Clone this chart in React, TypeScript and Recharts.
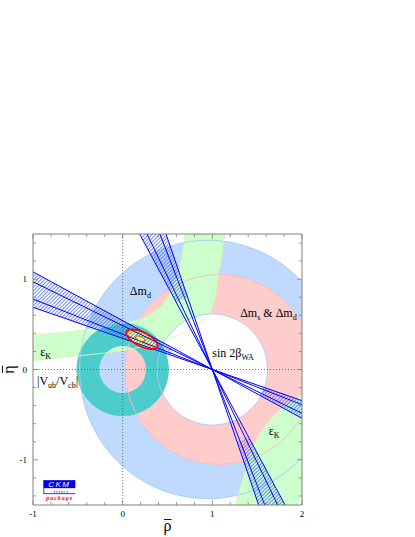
import React from 'react';
import { ComposedChart, Scatter, XAxis, YAxis } from 'recharts';

// ---------- axes ----------
const xDomain = [-1, 2];
const yDomain = [-1.5, 1.5];
const xTicks = [-1, -0.8, -0.6, -0.4, -0.2, 0, 0.2, 0.4, 0.6, 0.8, 1, 1.2, 1.4, 1.6, 1.8, 2];
const yTicks = [-1.4, -1.2, -1, -0.8, -0.6, -0.4, -0.2, 0, 0.2, 0.4, 0.6, 0.8, 1, 1.2, 1.4];
const xLabelled = [-1, 0, 1, 2];
const yLabelled = [-1, 0, 1];
const xTitle = 'ρ';
const yTitle = 'η';

// ---------- constraints ----------
// circles: [rho centre, eta centre, radius]
const dmdCircle = [0.95, 0, 1.43];
const dmsCircle = [1.08, 0, 1.05];
const holeCircle = [1.0, 0, 0.615];
const vubOuter = [0, 0, 0.515];
const vubInner = [0, 0, 0.26];

// epsilon_K band edges
const ekUpperOuter = [[-1.1, 0.37], [-1, 0.38], [-0.5, 0.43], [0, 0.51], [0.25, 0.58], [0.42, 0.7], [0.53, 0.85], [0.61, 1.05], [0.66, 1.25], [0.7, 1.5], [0.72, 1.62]];
const ekUpperInner = [[1.16, 1.62], [1.14, 1.5], [1.11, 1.3], [1.07, 1.05], [1.03, 0.8], [0.95, 0.6], [0.7, 0.42], [0.4, 0.3], [0, 0.21], [-0.5, 0.15], [-1, 0.1], [-1.1, 0.09]];
const ekLowerInner = [[2.1, -0.26], [2.0, -0.285], [1.75, -0.45], [1.55, -0.68], [1.42, -0.95], [1.33, -1.25], [1.26, -1.5], [1.24, -1.62]];
const ekLowerOuter = [[1.88, -1.62], [1.94, -1.5], [2.0, -1.4], [2.1, -1.28]];

// sin 2beta : apex and line angles (deg)
const apex = [1, 0];
const betaDeg = [19.0, 21.3, 25.9, 28.4];
const hatchStart = { shallowUp: 0.5, shallowDown: 0.6, steepUp: 0.85, steepDown: 0.85 };

// global fit contours
const cl95 = { rho: 0.215, eta: 0.335, a: 0.19, b: 0.077, angle: -26 };
const cl68 = { rho: 0.195, eta: 0.341, a: 0.055, b: 0.024, angle: -22 };

// text annotations: parts [text, isSubscript]
const annotations = [
  { x: 0.08, y: 0.83, parts: [['Δm', false], ['d', true]] },
  { x: 1.31, y: 0.58, parts: [['Δm', false], ['s', true], [' & Δm', false], ['d', true]] },
  { x: -0.92, y: 0.145, parts: [['ε', false], ['K', true]] },
  { x: 1.63, y: -0.72, parts: [['ε', false], ['K', true]] },
  { x: -0.955, y: -0.17, parts: [['|V', false], ['ub', true], ['/V', false], ['cb', true], ['|', false]] },
  { x: 1.0, y: 0.135, parts: [['sin 2β', false], ['WA', true]] },
];
const logoAnchor = [{ x: -0.885, y: -1.225 }];

// ---------- colours ----------
const C = {
  blue: '#bfd9ff',
  pink: '#ffcccc',
  green: '#ccffcc',
  teal: '#4dcccc',
  blueLine: '#a9c6fb',
  pinkLine: '#ffb8b8',
  greenLine: '#d4f7a8',
  band: '#0000ff',
  hatch: '#2a4cff',
  red: '#ff0000',
  yellow: '#ffff66',
  frame: '#808080',
};
const serif = '"Liberation Serif", "Times New Roman", serif';

// ---------- geometry helpers ----------
const circlePts = (c: number[], n = 200) =>
  Array.from({ length: n }, (_, i) => {
    const t = (2 * Math.PI * i) / n;
    return { x: c[0] + c[2] * Math.cos(t), y: c[1] + c[2] * Math.sin(t) };
  });
const ellipsePts = (e: any, n = 120) => {
  const A = (e.angle * Math.PI) / 180;
  return Array.from({ length: n }, (_, i) => {
    const t = (2 * Math.PI * i) / n;
    const u = e.a * Math.cos(t);
    const v = e.b * Math.sin(t);
    return { x: e.rho + u * Math.cos(A) - v * Math.sin(A), y: e.eta + u * Math.sin(A) + v * Math.cos(A) };
  });
};
const toPts = (arr: number[][]) => arr.map(([x, y]) => ({ x, y }));
const dir = (phiDeg: number, r: number) => {
  const p = (phiDeg * Math.PI) / 180;
  return { x: apex[0] + r * Math.cos(p), y: apex[1] + r * Math.sin(p) };
};

// data sets
const dmdData = circlePts(dmdCircle);
const dmsData = circlePts(dmsCircle);
const holeData = circlePts(holeCircle);
const vubData = [...circlePts(vubOuter), ...circlePts(vubInner)];
const ekUpData = [...toPts(ekUpperOuter), ...toPts(ekUpperInner)];
const ekLowData = [...toPts(ekLowerInner), ...toPts(ekLowerOuter)];
const bMin = Math.min(...betaDeg);
const bMax = Math.max(...betaDeg);
const R = 3.5;
const wedge = (p1: number, p2: number, r0: number) => [dir(p1, r0), dir(p1, R), dir(p2, R), dir(p2, r0)];
const hatchData = [
  ...wedge(180 - bMin, 180 - bMax, hatchStart.shallowUp),
  ...wedge(-bMin, -bMax, hatchStart.shallowDown),
  ...wedge(90 + bMin, 90 + bMax, hatchStart.steepUp),
  ...wedge(bMin - 90, bMax - 90, hatchStart.steepDown),
];
const bandLineData = betaDeg.flatMap((b) => [dir(180 - b, R), dir(-b, R), dir(90 + b, R), dir(b - 90, R)]);
const cl95Data = ellipsePts(cl95);
const cl68Data = ellipsePts(cl68, 60);
const boundaryData = [...circlePts(dmdCircle), ...circlePts(holeCircle)];
const pinkBoundaryData = circlePts(dmsCircle);
const greenBoundaryData = [...toPts(ekUpperOuter), ...toPts(ekUpperInner), ...toPts(ekLowerInner), ...toPts(ekLowerOuter)];
const hAxisLine = [{ x: xDomain[0], y: 0 }, { x: xDomain[1], y: 0 }];
const vAxisLine = [{ x: 0, y: yDomain[0] }, { x: 0, y: yDomain[1] }];

// ---------- renderers ----------
const f = (v: number) => v.toFixed(2);
const polyPath = (pts: any[], closed: boolean) => {
  let d = '';
  pts.forEach((p, j) => {
    d += (j === 0 ? 'M' : 'L') + f(p.x) + ',' + f(p.y);
  });
  return closed ? d + 'Z' : d;
};
const crPath = (pts: any[], move: boolean) => {
  const n = pts.length;
  let d = (move ? 'M' : 'L') + f(pts[0].x) + ',' + f(pts[0].y);
  const g = (i: number) => pts[Math.max(0, Math.min(n - 1, i))];
  for (let i = 0; i < n - 1; i++) {
    const p0 = g(i - 1), p1 = g(i), p2 = g(i + 1), p3 = g(i + 2);
    d += 'C' + f(p1.x + (p2.x - p0.x) / 6) + ',' + f(p1.y + (p2.y - p0.y) / 6) + ' ' +
      f(p2.x - (p3.x - p1.x) / 6) + ',' + f(p2.y - (p3.y - p1.y) / 6) + ' ' + f(p2.x) + ',' + f(p2.y);
  }
  return d;
};
const split = (pts: any[], sizes: number[]) => {
  const out: any[][] = [];
  let i = 0;
  sizes.forEach((n) => {
    out.push(pts.slice(i, i + n));
    i += n;
  });
  return out;
};
const loops = (sizes: number[], closed: boolean, style: any) => (props: any) => {
  const pts = props.points || [];
  const d = split(pts, sizes).map((s) => polyPath(s, closed)).join('');
  return <path d={d} fillRule="evenodd" {...style} />;
};
const smoothBand = (sizeA: number, style: any) => (props: any) => {
  const pts = props.points || [];
  const a = pts.slice(0, sizeA);
  const b = pts.slice(sizeA);
  const d = crPath(a, true) + crPath(b, false) + 'Z';
  return <path d={d} {...style} />;
};
const smoothLines = (sizes: number[], style: any) => (props: any) => {
  const pts = props.points || [];
  const d = split(pts, sizes).map((s) => crPath(s, true)).join('');
  return <path d={d} fill="none" {...style} />;
};
const hatchRenderer = (props: any) => {
  const pts = props.points || [];
  const d = split(pts, [4, 4, 4, 4]).map((s) => polyPath(s, true)).join('');
  return (
    <g>
      <defs>
        <pattern id="sin2bHatch" patternUnits="userSpaceOnUse" width="2.6" height="2.6" patternTransform="rotate(45)">
          <line x1="0.5" y1="0" x2="0.5" y2="2.6" stroke={C.hatch} strokeWidth="0.65" />
        </pattern>
      </defs>
      <path d={d} fill="url(#sin2bHatch)" stroke="none" />
    </g>
  );
};

const Empty = () => <g />;

const AnnotationShape = (props: any) => {
  const { cx, cy, payload } = props;
  let shift = 0;
  return (
    <text x={cx} y={cy} fontSize={12} fontFamily={serif} fill="#000">
      {payload.parts.map(([t, sub]: any, i: number) => {
        const target = sub ? 3 : 0;
        const dy = target - shift;
        shift = target;
        return (
          <tspan key={i} dy={dy} fontSize={sub ? 8 : 12}>
            {t}
          </tspan>
        );
      })}
    </text>
  );
};

const LogoShape = (props: any) => {
  const { cx, cy } = props;
  return (
    <g>
      <rect x={cx} y={cy} width={32} height={8} fill="#0000f0" />
      <text x={cx + 16} y={cy + 7} fill="#fff" fontSize={8} fontStyle="italic" fontFamily='"Liberation Sans", Arial, sans-serif' textAnchor="middle" letterSpacing={1.5}>CKM</text>
      <line x1={cx + 0.5} y1={cy + 8} x2={cx + 0.5} y2={cy + 13.5} stroke="#0000f0" strokeWidth={0.8} />
      <line x1={cx} y1={cy + 13.5} x2={cx + 32} y2={cy + 13.5} stroke="#0000f0" strokeWidth={0.8} />
      <text x={cx + 18} y={cy + 12.6} fill="#0000f0" fontSize={5} fontFamily={serif} textAnchor="middle" letterSpacing={1}>fitter</text>
      <text x={cx + 16.5} y={cy + 19.5} fill="#ff0000" fontSize={6} fontStyle="italic" fontWeight="bold" fontFamily={serif} textAnchor="middle" letterSpacing={1}>package</text>
    </g>
  );
};

// ---------- ticks ----------
const TickBottom = (p: any) => {
  const { x, y, payload } = p;
  const v = payload.value;
  const major = xLabelled.includes(v);
  return (
    <g>
      <line x1={x} x2={x} y1={y} y2={y - (major ? 5 : 3)} stroke={C.frame} strokeWidth={0.8} />
      {major && (
        <text x={x} y={y + 12} textAnchor="middle" fontSize={9} fontFamily={serif} fill="#000">{String(v)}</text>
      )}
    </g>
  );
};
const TickTop = (p: any) => {
  const { x, y, payload } = p;
  const major = xLabelled.includes(payload.value);
  return <line x1={x} x2={x} y1={y} y2={y + (major ? 5 : 3)} stroke={C.frame} strokeWidth={0.8} />;
};
const TickLeft = (p: any) => {
  const { x, y, payload } = p;
  const v = payload.value;
  const major = yLabelled.includes(v);
  return (
    <g>
      <line x1={x} x2={x + (major ? 5 : 3)} y1={y} y2={y} stroke={C.frame} strokeWidth={0.8} />
      {major && (
        <text x={x - 6} y={y + 3} textAnchor="end" fontSize={9} fontFamily={serif} fill="#000">{String(v)}</text>
      )}
    </g>
  );
};
const TickRight = (p: any) => {
  const { x, y, payload } = p;
  const major = yLabelled.includes(payload.value);
  return <line x1={x} x2={x - (major ? 5 : 3)} y1={y} y2={y} stroke={C.frame} strokeWidth={0.8} />;
};
const XTitle = (p: any) => {
  const vb = p.viewBox || { x: 0, y: 0, width: 0, height: 0 };
  const x = vb.x + vb.width / 2;
  const y = vb.y + vb.height - 6;
  return (
    <g>
      <text x={x} y={y} textAnchor="middle" fontSize={16} fontFamily={serif} fill="#000">{xTitle}</text>
      <line x1={x - 3.5} x2={x + 4} y1={y - 11.5} y2={y - 11.5} stroke="#000" strokeWidth={0.9} />
    </g>
  );
};
const YTitle = (p: any) => {
  const vb = p.viewBox || { x: 0, y: 0, width: 0, height: 0 };
  const x = vb.x + 14;
  const y = vb.y + vb.height / 2;
  return (
    <g transform={`rotate(-90, ${x}, ${y})`}>
      <text x={x} y={y} textAnchor="middle" fontSize={16} fontFamily={serif} fill="#000">{yTitle}</text>
      <line x1={x - 3.5} x2={x + 4} y1={y - 11.5} y2={y - 11.5} stroke="#000" strokeWidth={0.9} />
    </g>
  );
};

const S = (key: string, data: any[], line: any, shape: any = Empty) => (
  <Scatter
    key={key}
    name={key}
    data={data}
    xAxisId="b"
    yAxisId="l"
    line={line}
    lineType="joint"
    shape={shape}
    isAnimationActive={false}
    legendType="none"
  />
);

export default function App() {
  return (
    <div style={{ position: 'absolute', left: 0, top: 0, background: '#fff' }}>
      <ComposedChart width={415} height={537} margin={{ top: 0, right: 0, bottom: 0, left: 0 }}>
        {S('dmd', dmdData, loops([dmdData.length], true, { fill: C.blue, stroke: 'none' }))}
        {S('dms', dmsData, loops([dmsData.length], true, { fill: C.pink, stroke: 'none' }))}
        {S('ekUp', ekUpData, smoothBand(ekUpperOuter.length, { fill: C.green, stroke: 'none' }))}
        {S('ekLow', ekLowData, smoothBand(ekLowerInner.length, { fill: C.green, stroke: 'none' }))}
        {S('hole', holeData, loops([holeData.length], true, { fill: '#fff', stroke: 'none' }))}
        {S('vub', vubData, loops([200, 200], true, { fill: C.teal, stroke: 'none' }))}
        {S('blueEdges', boundaryData, loops([200, 200], true, { fill: 'none', stroke: C.blueLine, strokeWidth: 0.9 }))}
        {S('pinkEdge', pinkBoundaryData, loops([200], true, { fill: 'none', stroke: C.pinkLine, strokeWidth: 0.9 }))}
        {S('greenEdges', greenBoundaryData, smoothLines([ekUpperOuter.length, ekUpperInner.length, ekLowerInner.length, ekLowerOuter.length], { stroke: C.greenLine, strokeWidth: 0.9 }))}
        {S('axesDotH', hAxisLine, loops([2], false, { fill: 'none', stroke: '#555', strokeWidth: 0.8, strokeDasharray: '1 2' }))}
        {S('axesDotV', vAxisLine, loops([2], false, { fill: 'none', stroke: '#555', strokeWidth: 0.8, strokeDasharray: '1 2' }))}
        {S('cl95fill', cl95Data, loops([cl95Data.length], true, { fill: C.yellow, stroke: 'none' }))}
        {S('hatch', hatchData, hatchRenderer)}
        {S('bandLines', bandLineData, loops(betaDeg.flatMap(() => [2, 2]), false, { fill: 'none', stroke: C.band, strokeWidth: 1 }))}
        {S('cl95', cl95Data, loops([cl95Data.length], true, { fill: 'none', stroke: C.red, strokeWidth: 1.8 }))}
        {S('cl68', cl68Data, loops([cl68Data.length], true, { fill: '#f4f060', stroke: '#555533', strokeWidth: 0.9 }))}
        {S('labels', annotations, false, AnnotationShape)}
        {S('logo', logoAnchor, false, LogoShape)}
        <XAxis xAxisId="b" dataKey="x" type="number" domain={xDomain} ticks={xTicks} interval={0} allowDataOverflow
          orientation="bottom" height={32} tickSize={0} tickMargin={0} tick={<TickBottom />} tickLine={false}
          axisLine={{ stroke: C.frame, strokeWidth: 1 }} label={<XTitle />} zIndex={1000} />
        <XAxis xAxisId="t" dataKey="x" type="number" domain={xDomain} ticks={xTicks} interval={0} allowDataOverflow
          orientation="top" height={234} tickSize={0} tickMargin={0} tick={<TickTop />} tickLine={false}
          axisLine={{ stroke: C.frame, strokeWidth: 1 }} zIndex={1000} />
        <YAxis yAxisId="l" dataKey="y" type="number" domain={yDomain} ticks={yTicks} interval={0} allowDataOverflow
          orientation="left" width={33} tickSize={0} tickMargin={0} tick={<TickLeft />} tickLine={false}
          axisLine={{ stroke: C.frame, strokeWidth: 1 }} label={<YTitle />} zIndex={1000} />
        <YAxis yAxisId="r" dataKey="y" type="number" domain={yDomain} ticks={yTicks} interval={0} allowDataOverflow
          orientation="right" width={113} tickSize={0} tickMargin={0} tick={<TickRight />} tickLine={false}
          axisLine={{ stroke: C.frame, strokeWidth: 1 }} zIndex={1000} />
      </ComposedChart>
    </div>
  );
}
